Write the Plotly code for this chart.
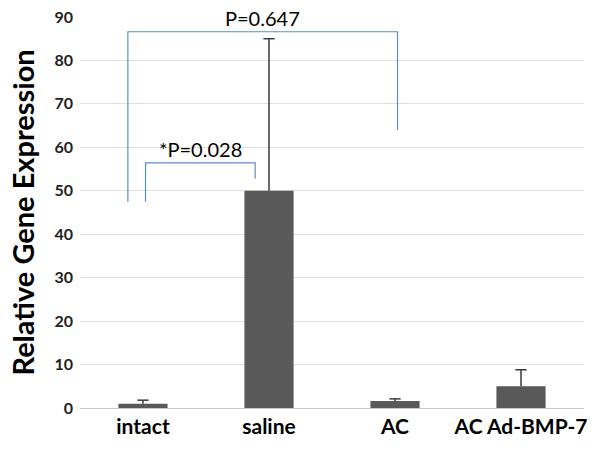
import plotly.graph_objects as go

# data
groups = ['intact', 'saline', 'AC', 'AC Ad-BMP-7']
means = [1.0, 50.0, 1.6, 5.0]
err_plus = [0.8, 35.0, 0.5, 3.8]
y_ticks = [0, 10, 20, 30, 40, 50, 60, 70, 80, 90]

# significance brackets: (x_left, x_right, y_top, y_left_end, y_right_end, label)
brackets = [
    (-0.12, 2.02, 86.6, 47.5, 64.0, 'P=0.647'),
    (0.02, 0.89, 56.4, 47.5, 52.8, '*P=0.028'),
]

xs = list(range(len(groups)))
tops = [m + e for m, e in zip(means, err_plus)]

# whiskers go up only, so draw them as line segments + cap markers
wx, wy = [], []
for x, m, t in zip(xs, means, tops):
    wx += [x, x, None]
    wy += [m, t, None]

fig = go.Figure(
    data=[
        go.Bar(x=xs, y=means, width=0.39, marker_color='#595959',
               marker_line_width=0),
        go.Scatter(x=wx, y=wy, mode='lines',
                   line=dict(color='#3a3a3a', width=1.5), hoverinfo='skip'),
        go.Scatter(x=xs, y=tops, mode='markers',
                   marker=dict(symbol='line-ew', size=8,
                               line=dict(color='#3a3a3a', width=1.5))),
    ]
)

for x0, x1, ytop, yl, yr, label in brackets:
    fig.add_shape(type='path',
                  path=f'M {x0} {yl} L {x0} {ytop} L {x1} {ytop} L {x1} {yr}',
                  xref='x', yref='y',
                  line=dict(color='#5b8ec8', width=1.2))
    fig.add_annotation(x=(x0 + x1) / 2, y=ytop, text=label, showarrow=False,
                       yanchor='bottom', yshift=0,
                       font=dict(size=20, color='black'))

fig.add_annotation(text='<b>Relative Gene Expression</b>', textangle=-90,
                   xref='paper', yref='paper', x=-0.115, y=0.5,
                   xanchor='center', yanchor='middle', showarrow=False,
                   font=dict(size=29, color='black'))

fig.update_layout(
    width=600,
    height=452,
    margin=dict(l=80, r=16, t=17, b=44),
    paper_bgcolor='white',
    plot_bgcolor='white',
    font=dict(family='Lato, Open Sans, sans-serif', color='black'),
    showlegend=False,
    xaxis=dict(
        tickvals=xs,
        ticktext=[f'<b>{g}</b>' for g in groups],
        range=[-0.5, 3.5],
        tickfont=dict(size=21),
        showgrid=False,
        showline=True,
        linecolor='#c8c8c8',
        ticks='',
        zeroline=False,
        automargin=False,
    ),
    yaxis=dict(
        range=[0, 90],
        tickvals=y_ticks,
        ticktext=[f'<b>{v}</b>' for v in y_ticks],
        tickfont=dict(size=16, color='#222'),
        showgrid=True,
        gridcolor='#e0e0e0',
        zeroline=False,
        ticks='',
        ticklabelstandoff=6,
        ticklabeloverflow='allow',
        automargin=False,
    ),
)

# drop the default 8px page margin so the 600x452 figure fills the window
fig.write_html("out.html", config={'displayModeBar': False},
               post_script="document.body.style.margin='0';")
